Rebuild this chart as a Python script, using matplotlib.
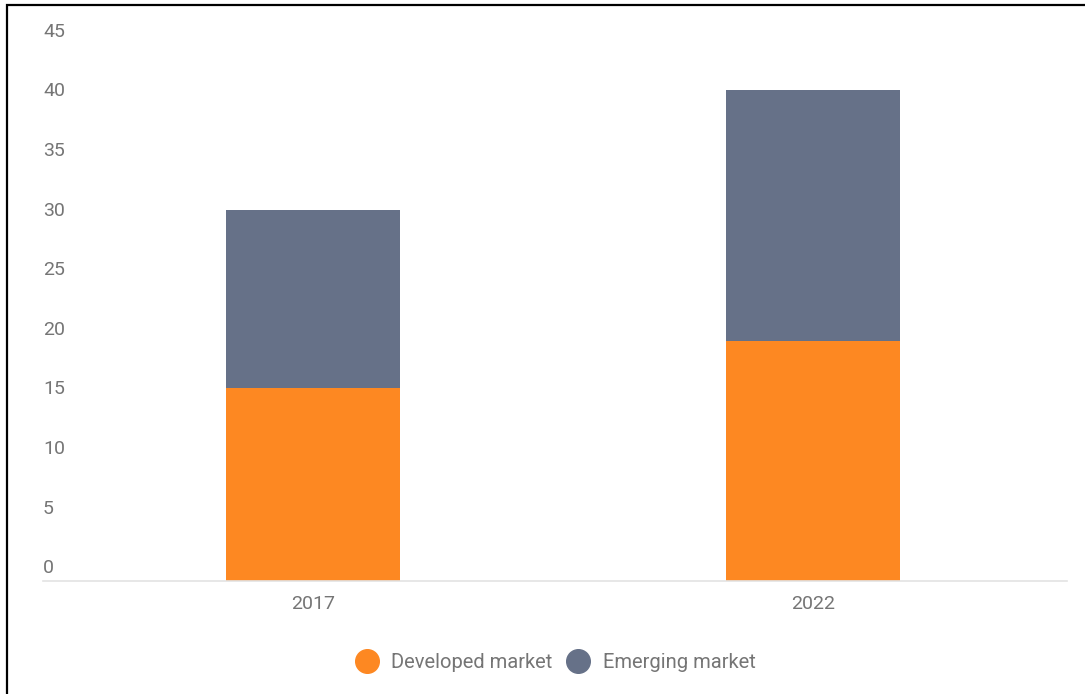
import matplotlib.pyplot as plt
from matplotlib.lines import Line2D
from matplotlib.patches import Rectangle
from matplotlib.transforms import ScaledTranslation

years = ["2017", "2022"]
developed = [16.2, 20.1]
emerging = [14.9, 21.1]
y_ticks = [0, 5, 10, 15, 20, 25, 30, 35, 40, 45]

ORANGE = "#fd8822"
SLATE = "#667188"
TEXT = "#757575"

plt.rcParams["font.family"] = ["Roboto", "DejaVu Sans"]

fig = plt.figure(figsize=(10.85, 6.94), dpi=100)
ax = fig.add_axes([43 / 1085, 113 / 694, 1024 / 1085, 536.6 / 694])

x = list(range(len(years)))
ax.bar(x, developed, width=0.348, color=ORANGE, label="Developed market")
ax.bar(x, emerging, width=0.348, bottom=developed, color=SLATE, label="Emerging market")

ax.set_xlim(-0.54, 1.508)
ax.set_ylim(0, 45)

for side in ["left", "right", "top"]:
    ax.spines[side].set_visible(False)
ax.spines["bottom"].set_color("#e3e3e3")
ax.spines["bottom"].set_linewidth(1.2)

ax.set_xticks(x)
ax.set_xticklabels(years, fontsize=14, color=TEXT)
ax.tick_params(axis="x", length=0, pad=10)

# y labels sit just above their value line
ax.set_yticks([])
offset = ScaledTranslation(0, 12.7 / 100, fig.dpi_scale_trans)
for v in y_ticks:
    ax.text(0, v, str(v), transform=ax.get_yaxis_transform() + offset,
            ha="left", va="center", fontsize=14, color=TEXT)

handles = [
    Line2D([], [], marker="o", linestyle="none", markersize=17,
           markerfacecolor=ORANGE, markeredgecolor=ORANGE),
    Line2D([], [], marker="o", linestyle="none", markersize=17,
           markerfacecolor=SLATE, markeredgecolor=SLATE),
]
fig.legend(handles, ["Developed market", "Emerging market"],
           loc="center", bbox_to_anchor=(556 / 1085, 1 - 663 / 694),
           ncol=2, frameon=False, fontsize=14.5, labelcolor=TEXT,
           handlelength=1.0, handletextpad=0.7, columnspacing=0.8)

# frame along the top and left edges
fig.patches.append(Rectangle((6.5 / 1085, -0.1), 1.2, 1.1 - 5.5 / 694,
                             transform=fig.transFigure, fill=False,
                             edgecolor="black", linewidth=1.6))

fig.savefig("out.png", dpi=100)
